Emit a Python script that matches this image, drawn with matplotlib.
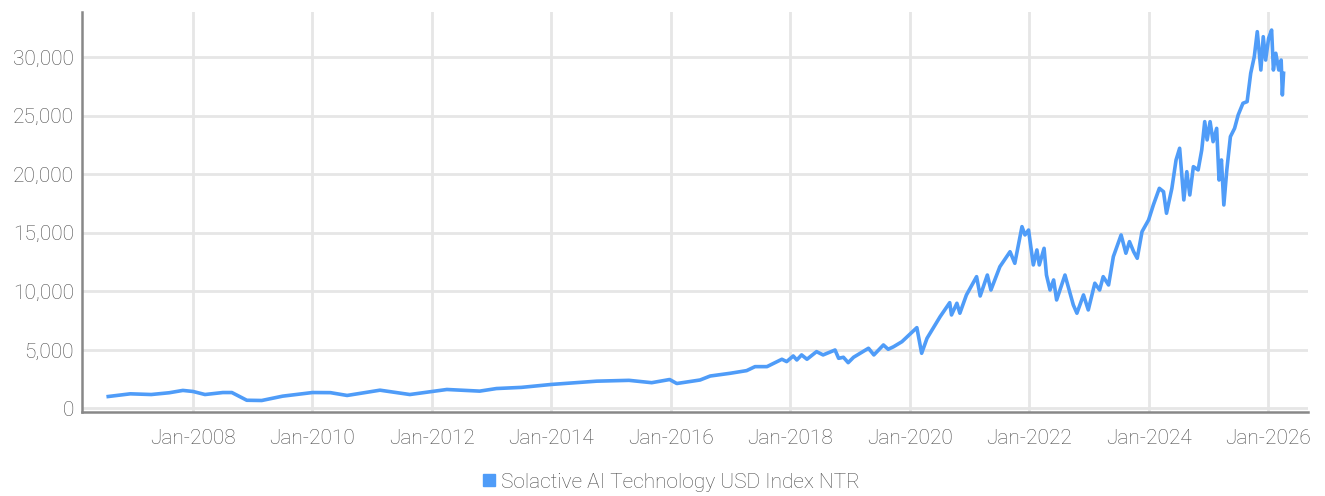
import matplotlib.pyplot as plt
from matplotlib.lines import Line2D
from matplotlib import font_manager

# fonts: narrow font if present
names = set(f.name for f in font_manager.fontManager.ttflist)
fam = ['Liberation Sans Narrow', 'Roboto', 'DejaVu Sans']
plt.rcParams['font.family'] = [f for f in fam if f in names] or ['DejaVu Sans']
plt.rcParams['font.weight'] = 'light'

# index level (decimal year, value)
years = [2006.58, 2006.95, 2007.3, 2007.6, 2007.83, 2008.0, 2008.2, 2008.5, 2008.65, 2008.9,
         2009.15, 2009.5, 2010.0, 2010.3, 2010.58, 2011.13, 2011.63, 2012.25, 2012.8, 2013.08,
         2013.5, 2014.0, 2014.76, 2015.3, 2015.68, 2015.98, 2016.1, 2016.49, 2016.66, 2016.99,
         2017.27, 2017.41, 2017.61, 2017.86, 2017.94, 2018.05, 2018.11, 2018.19, 2018.28, 2018.44,
         2018.55, 2018.75, 2018.81, 2018.89, 2018.97, 2019.06, 2019.31, 2019.4, 2019.56, 2019.64,
         2019.73, 2019.87, 2020.12, 2020.2, 2020.29, 2020.51, 2020.67, 2020.7, 2020.79, 2020.84,
         2020.95, 2021.06, 2021.12, 2021.18, 2021.3, 2021.36, 2021.51, 2021.68, 2021.76, 2021.88,
         2021.93, 2021.99, 2022.07, 2022.13, 2022.17, 2022.25, 2022.29, 2022.35, 2022.41, 2022.46,
         2022.6, 2022.74, 2022.8, 2022.91, 2022.99, 2023.1, 2023.18, 2023.24, 2023.33, 2023.41,
         2023.54, 2023.62, 2023.68, 2023.75, 2023.81, 2023.89, 2024.0, 2024.08, 2024.18, 2024.25,
         2024.3, 2024.39, 2024.46, 2024.52, 2024.59, 2024.64, 2024.69, 2024.75, 2024.83, 2024.89,
         2024.94, 2024.98, 2025.03, 2025.08, 2025.14, 2025.18, 2025.22, 2025.26, 2025.31, 2025.37,
         2025.44, 2025.5, 2025.58, 2025.65, 2025.71, 2025.77, 2025.82, 2025.88, 2025.92, 2025.96,
         2026.01, 2026.06, 2026.09, 2026.13, 2026.18, 2026.22, 2026.24, 2026.26]
values = [1020, 1250, 1190, 1340, 1540, 1450, 1190, 1360, 1360, 700,
          680, 1050, 1360, 1350, 1110, 1560, 1190, 1620, 1480, 1700,
          1800, 2050, 2330, 2400, 2200, 2470, 2130, 2430, 2770, 3000,
          3230, 3570, 3570, 4200, 4000, 4480, 4140, 4570, 4200, 4850,
          4570, 4990, 4280, 4370, 3910, 4370, 5140, 4570, 5420, 5050,
          5270, 5700, 6900, 4710, 5990, 7840, 9030, 7980, 8980, 8130,
          9690, 10690, 11250, 9600, 11390, 10110, 12100, 13380, 12390, 15520,
          14810, 15230, 12250, 13530, 12250, 13670, 11390, 10110, 10970, 9260,
          11390, 8830, 8130, 9690, 8410, 10690, 10110, 11250, 10540, 12960,
          14810, 13250, 14240, 13380, 12820, 15090, 16090, 17370, 18790, 18500,
          16660, 18790, 21210, 22210, 17800, 20210, 18220, 20640, 20360, 22060,
          24480, 22920, 24480, 22770, 23910, 19500, 21210, 17370, 20360, 23200,
          23910, 25050, 26050, 26190, 28610, 30030, 32160, 28890, 31730, 29740,
          31600, 32300, 28890, 30320, 28890, 29740, 26760, 28610]

tick_years = list(range(2008, 2027, 2))
tick_labels = ['Jan-%d' % y for y in tick_years]
y_ticks = [0, 5000, 10000, 15000, 20000, 25000, 30000]
series_name = 'Solactive AI Technology USD Index NTR'

blue = '#4f9cf8'
grey = '#4a4a4a'

fig = plt.figure(figsize=(13.25, 4.96), dpi=100)
ax = fig.add_axes([0.0619, 0.1694, 0.9253, 0.8064])

ax.plot(years, values, color=blue, lw=2.6, solid_joinstyle='round', zorder=3)

ax.set_xlim(2006.141, 2026.67)
ax.set_ylim(-300, 33840)
ax.set_xticks(tick_years)
ax.set_xticklabels(tick_labels)
ax.set_yticks(y_ticks)
ax.set_yticklabels(['{:,}'.format(v) for v in y_ticks])
ax.tick_params(length=0, labelsize=15, colors=grey, pad=6)
ax.tick_params(axis='x', pad=12)

ax.grid(True, color='#e6e6e6', lw=2)
ax.set_axisbelow(True)
for s in ['top', 'right']:
    ax.spines[s].set_visible(False)
for s in ['left', 'bottom']:
    ax.spines[s].set_color('#888888')
    ax.spines[s].set_linewidth(1.8)

handle = Line2D([], [], marker='s', color='none', markerfacecolor=blue,
                markeredgecolor=blue, markersize=8)
fig.legend([handle], [series_name], loc='center', bbox_to_anchor=(0.505, 0.028),
           frameon=False, fontsize=15, labelcolor=grey, handletextpad=0.1,
           handlelength=1)

fig.savefig('out.png', dpi=100)
